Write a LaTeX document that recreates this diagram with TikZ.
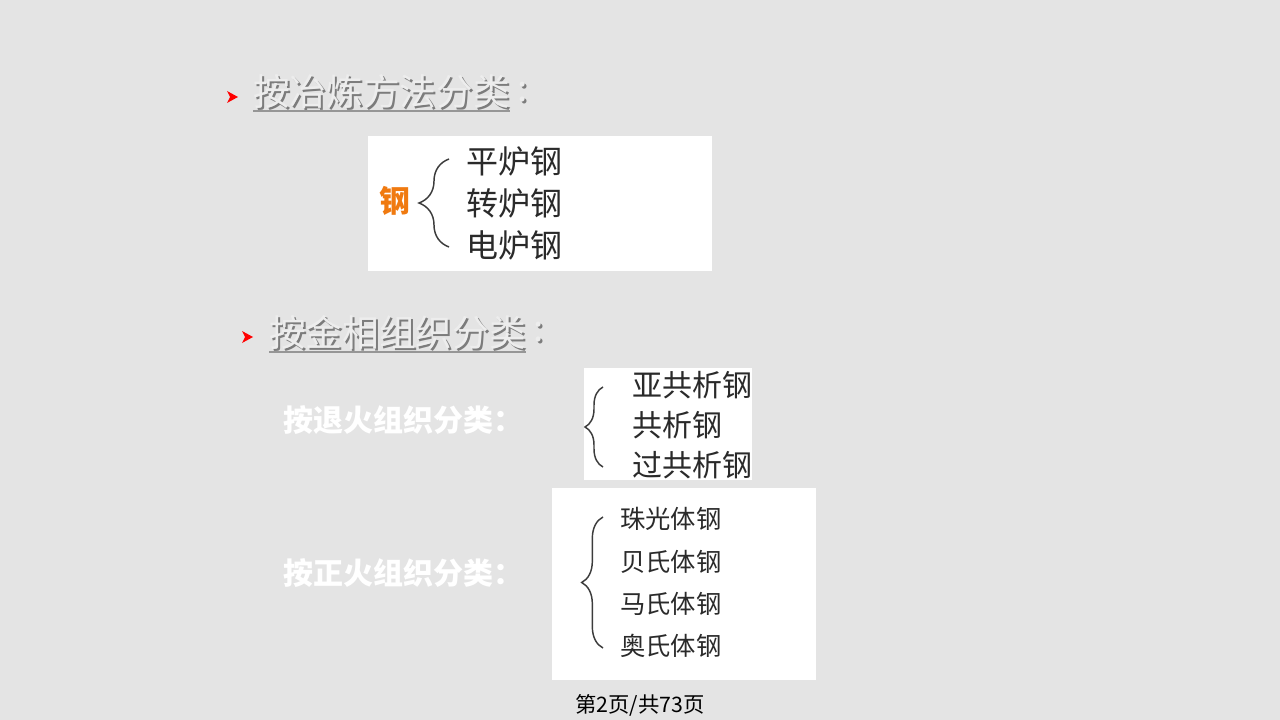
\documentclass[tikz,border=0pt]{standalone}
\usepackage{fontspec}
\setmainfont{Noto Sans CJK SC}
\usetikzlibrary{decorations.pathreplacing}

\definecolor{slidebg}{HTML}{E4E4E4}
\definecolor{headfg}{HTML}{EDEDED}
\definecolor{headshade}{HTML}{7C7C7C}
\definecolor{steelorange}{HTML}{F07A10}
\definecolor{bracegray}{HTML}{3C3C3C}
\definecolor{itemgray}{HTML}{2A2A2A}

% embossed heading text: shade first, then the light glyphs on top
\newcommand\embossed[1]{\makebox[0pt][l]{\hspace{1.5pt}\raisebox{-1.5pt}{\color{headshade}#1}}#1}

\tikzset{
  heading/.style={anchor=west, inner sep=0pt, text=headfg, font=\fontsize{27.5}{27.5}\selectfont},
  item/.style={anchor=west, inner sep=0pt, text=itemgray, font=\fontsize{#1}{#1}\selectfont},
  sublabel/.style={anchor=west, inner sep=0pt, text=white, font=\bfseries\fontsize{22.5}{22.5}\selectfont},
  curly/.style={decorate, decoration={brace, amplitude=#1}, draw=bracegray, line width=1.1pt},
  panel/.style={fill=white, draw=none}
}

\begin{document}
\begin{tikzpicture}[x=0.75pt, y=-0.75pt]

        % slide
        \fill[slidebg] (0,0) rectangle (1280,720);

        % first heading
        \fill[red] (227,91) -- (238,97) -- (227,103) -- (230,97) -- cycle;
        \node[heading] (head1) at (253,93) {\embossed{按冶炼方法分类}};
        \node[heading, anchor=west] (colon1) at ([xshift=5pt]head1.east) {\embossed{:}};
        \draw[headshade!80, line width=1.5pt] (head1.west |- 0,111) -- (head1.east |- 0,111);

        % box 1
        \fill[panel] (368,136) rectangle (712,271);
        \node[anchor=west, inner sep=0pt, text=steelorange, font=\bfseries\fontsize{23}{23}\selectfont] (steel) at (379,201) {钢};
        \node[item=24] (open) at (466,161) {平炉钢};
        \node[item=24] (conv) at (466,203) {转炉钢};
        \node[item=24] (elec) at (466,245) {电炉钢};
        \coordinate (b1top) at (449,159);
        \coordinate (b1bot) at (449,247);
        \draw[curly=22.5pt] (b1bot) -- (b1top);

        % second heading
        \fill[red] (242,331) -- (253,337) -- (242,343) -- (245,337) -- cycle;
        \node[heading] (head2) at (269,333) {\embossed{按金相组织分类}};
        \node[heading, anchor=west] (colon2) at ([xshift=5pt]head2.east) {\embossed{:}};
        \draw[headshade!80, line width=1.5pt] (head2.west |- 0,352) -- (head2.east |- 0,352);

        % annealed structure
        \node[sublabel] (anneal) at (283,420) {按退火组织分类：};
        \fill[panel] (584,368) rectangle (752,480);
        \node[item=22.5] (hypo) at (632,385) {亚共析钢};
        \node[item=22.5] (eut) at (632,425) {共析钢};
        \node[item=22.5] (hyper) at (632,465) {过共析钢};
        \coordinate (b2top) at (603,387);
        \coordinate (b2bot) at (603,467);
        \draw[curly=13.5pt] (b2bot) -- (b2top);

        % normalized structure
        \node[sublabel] (normal) at (283,573) {按正火组织分类：};
        \fill[panel] (552,488) rectangle (816,680);
        \node[item=19] (pearl) at (620,519) {珠光体钢};
        \node[item=19] (bain) at (620,562) {贝氏体钢};
        \node[item=19] (mart) at (620,604) {马氏体钢};
        \node[item=19] (aust) at (620,646) {奥氏体钢};
        \coordinate (b3top) at (603,517);
        \coordinate (b3bot) at (603,648);
        \draw[curly=16pt] (b3bot) -- (b3top);

        % page number
        \node[inner sep=0pt, font=\fontsize{16}{16}\selectfont] (page) at (640,705) {第2页/共73页};

\end{tikzpicture}
\end{document}
